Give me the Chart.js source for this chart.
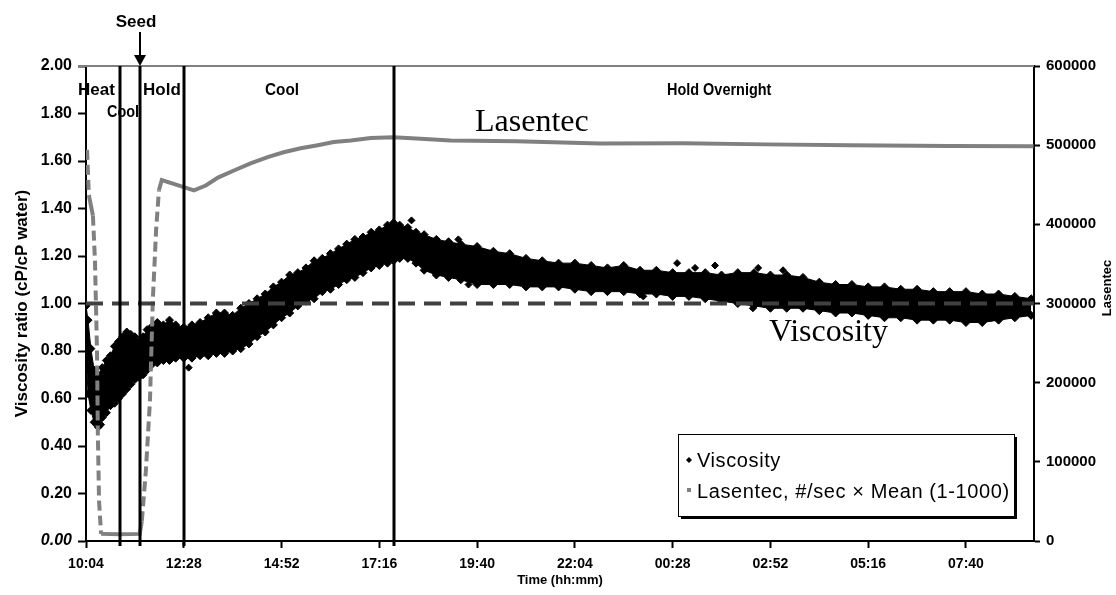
<!DOCTYPE html>
<html>
<head>
<meta charset="utf-8">
<script src="https://cdn.jsdelivr.net/npm/chart.js@4.4.1/dist/chart.umd.min.js"></script>
<style>
  html, body { margin: 0; padding: 0; background: #fff; }
  #wrap { width: 1116px; height: 595px; }
</style>
</head>
<body>
<div id="wrap"><canvas id="chart" width="1116" height="595"></canvas></div>
<script>
// time axis is hours since 10:04
const xTickHours = [0, 2.4, 4.8, 7.2, 9.6, 12, 14.4, 16.8, 19.2, 21.6];
const xTickLabels = ['10:04', '12:28', '14:52', '17:16', '19:40', '22:04', '00:28', '02:52', '05:16', '07:40'];
const xMaxHours = 23.27;

// phase boundaries (hours) and their names
const phaseHours = [0.83, 1.32, 2.40, 7.55];
const phaseLabels = ['Heat', 'Cool', 'Hold', 'Cool', 'Hold Overnight'];

// viscosity ratio scatter, read as the upper and lower edge of the point cloud
const viscTime = [
  0.00, 0.05, 0.12, 0.20, 0.30, 0.40, 0.50, 0.60, 0.70, 0.80, 0.90, 1.00, 1.10, 1.20, 1.30, 1.40, 1.50, 1.60,
  1.75, 1.90, 2.05, 2.20, 2.40, 2.60, 2.80, 3.00, 3.20, 3.40, 3.60, 3.80,
  4.00, 4.20, 4.40, 4.60, 4.80, 5.00, 5.20, 5.40, 5.60, 5.80, 6.00, 6.20, 6.40, 6.60, 6.80, 7.00, 7.20, 7.40,
  7.55, 7.70, 7.90, 8.10, 8.30, 8.60, 8.90, 9.20, 9.60,
  10.0, 10.4, 10.8, 11.2, 11.6, 12.0, 12.4, 12.8, 13.2, 13.6, 14.0, 14.4, 14.8, 15.2, 15.6, 16.0, 16.4,
  16.8, 17.2, 17.6, 18.0, 18.4, 18.8, 19.2, 19.6, 20.0, 20.4, 20.8, 21.2, 21.6, 22.0, 22.4, 22.8, 23.2
];
const viscHigh = [
  0.99, 0.93, 0.81, 0.72, 0.70, 0.73, 0.76, 0.78, 0.82, 0.84, 0.86, 0.88, 0.87, 0.86, 0.84, 0.86, 0.89, 0.90,
  0.92, 0.91, 0.93, 0.91, 0.90, 0.91, 0.92, 0.94, 0.96, 0.96, 0.95, 0.98,
  1.00, 1.02, 1.04, 1.07, 1.09, 1.12, 1.13, 1.15, 1.18, 1.19, 1.21, 1.23, 1.25, 1.27, 1.28, 1.30, 1.31, 1.33,
  1.34, 1.33, 1.32, 1.30, 1.29, 1.27, 1.26, 1.25, 1.24,
  1.22, 1.21, 1.19, 1.18, 1.17, 1.17, 1.16, 1.15, 1.16, 1.14, 1.14, 1.13, 1.13, 1.13, 1.12, 1.13, 1.13,
  1.12, 1.12, 1.11, 1.09, 1.08, 1.08, 1.07, 1.07, 1.06, 1.06, 1.05, 1.05, 1.05, 1.04, 1.04, 1.03, 1.02
];
const viscLow = [
  0.80, 0.62, 0.55, 0.50, 0.48, 0.52, 0.54, 0.57, 0.58, 0.60, 0.62, 0.64, 0.66, 0.68, 0.69, 0.70, 0.72, 0.74,
  0.75, 0.76, 0.76, 0.77, 0.77, 0.77, 0.78, 0.78, 0.79, 0.79, 0.80, 0.81,
  0.83, 0.86, 0.88, 0.91, 0.94, 0.96, 0.99, 1.01, 1.02, 1.05, 1.06, 1.08, 1.10, 1.11, 1.13, 1.15, 1.16, 1.17,
  1.18, 1.19, 1.19, 1.17, 1.14, 1.12, 1.11, 1.10, 1.08,
  1.08, 1.08, 1.07, 1.07, 1.07, 1.06, 1.05, 1.05, 1.05, 1.04, 1.04, 1.03, 1.03, 1.02, 1.01, 1.00, 0.99,
  0.98, 0.98, 0.98, 0.97, 0.96, 0.96, 0.95, 0.94, 0.94, 0.93, 0.93, 0.93, 0.92, 0.92, 0.93, 0.94, 0.95
];
// stray viscosity points outside the main cloud
const viscOutTime = [0.37, 2.52, 7.99, 9.14, 9.39, 13.68, 14.51, 14.95, 15.44, 16.37, 16.50, 17.11];
const viscOutVal = [0.49, 0.73, 1.35, 1.27, 1.08, 1.03, 1.17, 1.15, 1.16, 0.98, 1.15, 1.14];

// Lasentec counts (#/sec x mean), right axis
const lasTime = [
  0, 0.025, 0.07, 0.17, 0.22, 0.27, 0.29, 0.32, 0.37, 0.8, 1.32, 1.37, 1.47, 1.57, 1.64, 1.72, 1.79, 1.86,
  2.40, 2.65, 2.94, 3.24, 3.63, 4.04, 4.46, 4.85, 5.27, 5.69, 6.08, 6.50, 6.99, 7.55,
  8.21, 8.95, 10.56, 12.62, 14.66, 16.69, 18.75, 21.2, 23.26
];
const lasValue = [
  490000, 494000, 437000, 411000, 354000, 240000, 139000, 51000, 9000, 8500, 9000, 25000, 89000, 177000, 304000, 392000, 443000, 456000,
  447000, 443000, 449000, 459000, 468000, 477000, 485000, 491000, 496000, 500000, 504000, 506000, 509000, 510000,
  508000, 506000, 505000, 502000, 502500, 501000, 500000, 499000, 498500
];

// water reference line
const refTime = [0, 23.27];
const refValue = [1.0, 1.0];

const SANS = "'Liberation Sans', Arial, sans-serif";
const SERIF = "'Liberation Serif', 'Times New Roman', serif";

const toPoints = (xs, ys) => xs.map((v, i) => ({ x: v, y: ys[i] }));

// draws the phase lines, labels, annotations and the boxed legend on top
const overlay = {
  id: 'overlay',
  afterDraw(chart) {
    const { ctx, chartArea: a } = chart;
    const x = chart.scales.x;
    ctx.save();

    // grey top border
    ctx.strokeStyle = '#808080';
    ctx.lineWidth = 2;
    ctx.beginPath();
    ctx.moveTo(a.left - 8, a.top);
    ctx.lineTo(a.right, a.top);
    ctx.stroke();

    // phase boundaries
    ctx.strokeStyle = '#000';
    ctx.lineWidth = 3;
    phaseHours.forEach(h => {
      const px = Math.round(x.getPixelForValue(h));
      ctx.beginPath();
      ctx.moveTo(px, a.top);
      ctx.lineTo(px, a.bottom + 5);
      ctx.stroke();
    });

    // phase names
    ctx.fillStyle = '#000';
    ctx.font = 'bold 17px ' + SANS;
    ctx.textBaseline = 'alphabetic';
    ctx.textAlign = 'left';
    const labelPos = [[78, 95, 1], [107, 117, 0.85], [143, 95, 1], [265, 95, 0.9], [667, 95, 0.85]];
    phaseLabels.forEach((t, i) => {
      const [lx, ly, sx] = labelPos[i];
      ctx.save();
      ctx.translate(lx, ly);
      ctx.scale(sx, 1);
      ctx.fillText(t, 0, 0);
      ctx.restore();
    });

    // seed arrow
    const sx = Math.round(x.getPixelForValue(phaseHours[1]));
    ctx.textAlign = 'center';
    ctx.fillText('Seed', sx - 4, 27);
    ctx.lineWidth = 2;
    ctx.beginPath();
    ctx.moveTo(sx, 32);
    ctx.lineTo(sx, 56);
    ctx.stroke();
    ctx.beginPath();
    ctx.moveTo(sx - 6, 55);
    ctx.lineTo(sx + 6, 55);
    ctx.lineTo(sx, 66);
    ctx.closePath();
    ctx.fill();

    // series annotations
    ctx.font = '32px ' + SERIF;
    ctx.textAlign = 'left';
    ctx.fillText('Lasentec', 475, 131);
    ctx.fillText('Viscosity', 769, 341);

    // right axis title
    ctx.save();
    ctx.font = 'bold 13px ' + SANS;
    ctx.translate(1107, 288);
    ctx.rotate(-Math.PI / 2);
    ctx.textAlign = 'center';
    ctx.textBaseline = 'middle';
    ctx.fillText('Lasentec', 0, 0);
    ctx.restore();

    // legend box with a shadow
    const bx = 678, by = 434, bw = 336, bh = 82;
    ctx.fillStyle = '#000';
    ctx.fillRect(bx + 3, by + 3, bw, bh);
    ctx.fillStyle = '#fff';
    ctx.fillRect(bx, by, bw, bh);
    ctx.strokeStyle = '#000';
    ctx.lineWidth = 1;
    ctx.strokeRect(bx + 0.5, by + 0.5, bw, bh);

    ctx.fillStyle = '#000';
    ctx.beginPath();
    ctx.moveTo(689, 457);
    ctx.lineTo(692, 460);
    ctx.lineTo(689, 463);
    ctx.lineTo(686, 460);
    ctx.closePath();
    ctx.fill();
    ctx.fillStyle = '#808080';
    ctx.fillRect(687, 488, 4, 4);

    ctx.fillStyle = '#000';
    ctx.font = '20px ' + SANS;
    ctx.letterSpacing = '0.6px';
    ctx.textAlign = 'left';
    ctx.fillText(chart.data.datasets[3].label, 697, 467);
    ctx.fillText(chart.data.datasets[1].label, 697, 498);
    ctx.restore();
  }
};

const ctx = document.getElementById('chart').getContext('2d');

new Chart(ctx, {
  type: 'line',
  data: {
    datasets: [
      {
        label: 'Water',
        data: toPoints(refTime, refValue),
        borderColor: '#404040',
        borderWidth: 4,
        borderDash: [17, 9],
        pointRadius: 0,
        yAxisID: 'y',
        order: 0,
      },
      {
        label: 'Lasentec, #/sec \u00d7 Mean (1-1000)',
        data: toPoints(lasTime, lasValue),
        borderColor: '#808080',
        borderWidth: 4,
        pointRadius: 0,
        yAxisID: 'y1',
        order: 1,
        segment: {
          // the steep parts show as broken dashes in the original
          borderDash: c => Math.abs(c.p1.parsed.y - c.p0.parsed.y) > 40000 ? [10, 5] : undefined,
        },
      },
      {
        label: 'Viscosity stray',
        data: toPoints(viscOutTime, viscOutVal),
        showLine: false,
        pointStyle: 'rectRot',
        pointRadius: 3.5,
        backgroundColor: '#000',
        borderColor: '#000',
        yAxisID: 'y',
        order: 2,
      },
      {
        label: 'Viscosity',
        data: toPoints(viscTime, viscHigh),
        borderColor: '#000',
        borderWidth: 1,
        pointStyle: 'rectRot',
        pointRadius: 4,
        backgroundColor: '#000',
        yAxisID: 'y',
        order: 3,
      },
      {
        label: 'Viscosity low',
        data: toPoints(viscTime, viscLow),
        borderColor: '#000',
        borderWidth: 1,
        pointStyle: 'rectRot',
        pointRadius: 4,
        backgroundColor: '#000',
        fill: '-1',
        yAxisID: 'y',
        order: 4,
      },
    ],
  },
  options: {
    responsive: false,
    animation: false,
    layout: { padding: { top: 66, left: 0, right: 0, bottom: 0 } },
    plugins: {
      legend: { display: false },
      tooltip: { enabled: false },
    },
    scales: {
      x: {
        type: 'linear',
        min: 0,
        max: xMaxHours,
        afterBuildTicks: s => { s.ticks = xTickHours.map(v => ({ value: v })); },
        afterFit: s => { s.height = 54; },
        ticks: {
          color: '#000',
          font: { family: SANS, size: 14, weight: 'bold' },
          padding: 8,
          maxRotation: 0,
          callback: (v, i) => xTickLabels[i],
        },
        grid: { drawOnChartArea: false, drawTicks: true, tickLength: 7, tickWidth: 2, tickColor: '#000' },
        border: { display: true, color: '#000', width: 2 },
        title: {
          display: true,
          text: 'Time (hh:mm)',
          color: '#000',
          font: { family: SANS, size: 13, weight: 'bold' },
          padding: { top: 0, bottom: 7 },
        },
      },
      y: {
        position: 'left',
        min: 0,
        max: 2,
        afterFit: s => { s.width = 86; },
        ticks: {
          stepSize: 0.2,
          color: '#000',
          padding: 6,
          font: c => ({ family: SANS, size: 16, weight: 'bold', style: c.tick && c.tick.value === 0 ? 'italic' : 'normal' }),
          callback: v => v.toFixed(2),
        },
        grid: { drawOnChartArea: false, drawTicks: true, tickLength: 8, tickWidth: 2, tickColor: '#000' },
        border: { display: true, color: '#000', width: 2 },
        title: {
          display: true,
          text: 'Viscosity ratio (cP/cP water)',
          color: '#000',
          font: { family: SANS, size: 17, weight: 'bold' },
          padding: { top: 12, bottom: 0 },
        },
      },
      y1: {
        position: 'right',
        min: 0,
        max: 600000,
        afterFit: s => { s.width = 82; },
        ticks: {
          stepSize: 100000,
          color: '#000',
          padding: 6,
          font: { family: SANS, size: 15, weight: 'bold' },
          callback: v => String(v),
        },
        grid: { drawOnChartArea: false, drawTicks: true, tickLength: 6, tickWidth: 2, tickColor: '#000' },
        border: { display: true, color: '#000', width: 2 },
      },
    },
  },
  plugins: [overlay],
});
</script>
</body>
</html>
